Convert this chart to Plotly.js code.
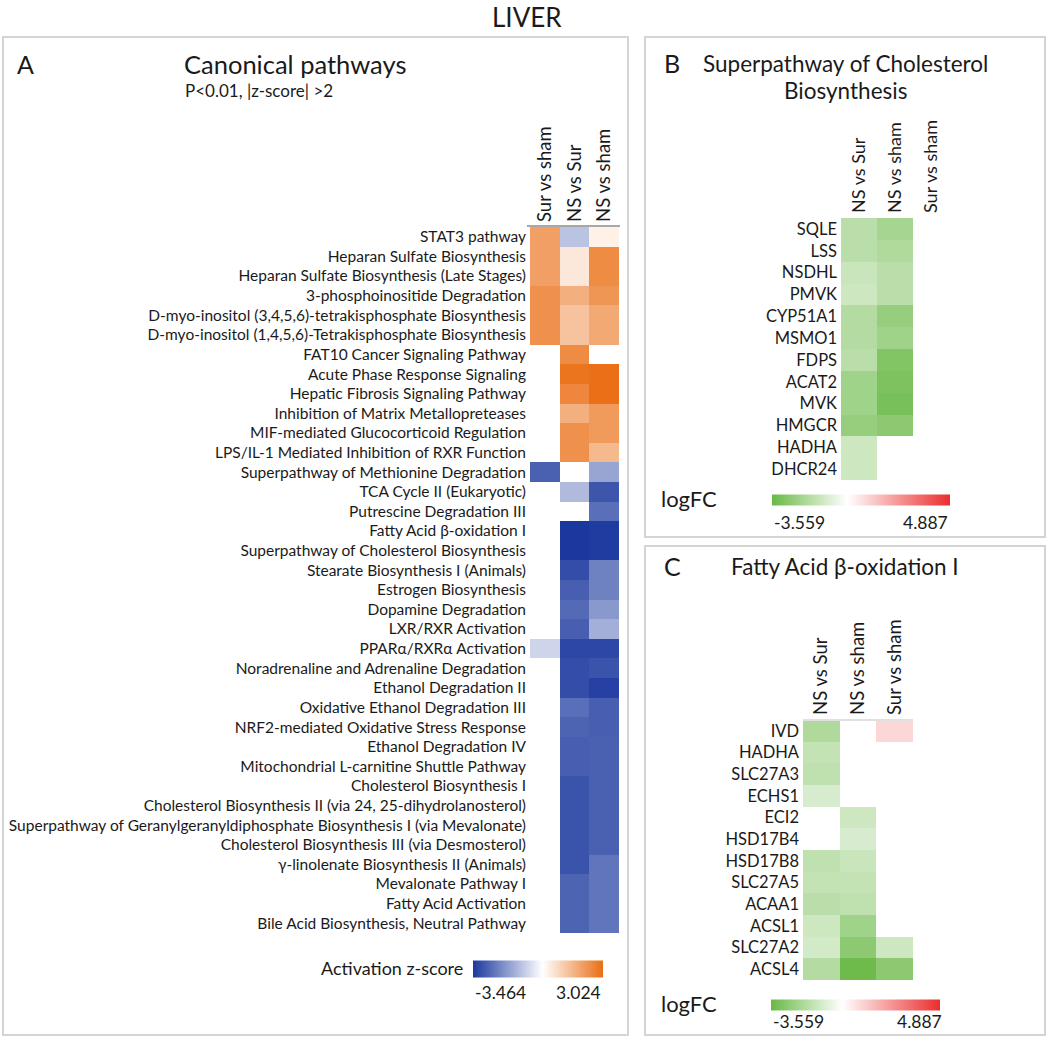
<!DOCTYPE html>
<html>
<head>
<meta charset="utf-8">
<script src="https://cdn.plot.ly/plotly-3.0.1.min.js"></script>
<style>body{margin:0;background:#fff;} #chart{width:1050px;height:1043px;}</style>
</head>
<body>
<div id="chart"></div>
<script>
const W = 1050, H = 1043;
const px = (x) => x / W;       // pixel -> paper x
const py = (y) => 1 - y / H;   // pixel -> paper y

// ---- panel A: canonical pathways, activation z-score
const pathways = [
  'STAT3 pathway',
  'Heparan Sulfate Biosynthesis',
  'Heparan Sulfate Biosynthesis (Late Stages)',
  '3-phosphoinositide Degradation',
  'D-myo-inositol (3,4,5,6)-tetrakisphosphate Biosynthesis',
  'D-myo-inositol (1,4,5,6)-Tetrakisphosphate Biosynthesis',
  'FAT10 Cancer Signaling Pathway',
  'Acute Phase Response Signaling',
  'Hepatic Fibrosis Signaling Pathway',
  'Inhibition of Matrix Metallopreteases',
  'MIF-mediated Glucocorticoid Regulation',
  'LPS/IL-1 Mediated Inhibition of RXR Function',
  'Superpathway of Methionine Degradation',
  'TCA Cycle II (Eukaryotic)',
  'Putrescine Degradation III',
  'Fatty Acid β-oxidation I',
  'Superpathway of Cholesterol Biosynthesis',
  'Stearate Biosynthesis I (Animals)',
  'Estrogen Biosynthesis',
  'Dopamine Degradation',
  'LXR/RXR Activation',
  'PPARα/RXRα Activation',
  'Noradrenaline and Adrenaline Degradation',
  'Ethanol Degradation II',
  'Oxidative Ethanol Degradation III',
  'NRF2-mediated Oxidative Stress Response',
  'Ethanol Degradation IV',
  'Mitochondrial L-carnitine Shuttle Pathway',
  'Cholesterol Biosynthesis I',
  'Cholesterol Biosynthesis II (via 24, 25-dihydrolanosterol)',
  'Superpathway of Geranylgeranyldiphosphate Biosynthesis I (via Mevalonate)',
  'Cholesterol Biosynthesis III (via Desmosterol)',
  'γ-linolenate Biosynthesis II (Animals)',
  'Mevalonate Pathway I',
  'Fatty Acid Activation',
  'Bile Acid Biosynthesis, Neutral Pathway'
];
const colsA = ['Sur vs sham', 'NS vs Sur', 'NS vs sham'];
const zSurSham = [2.0, 2.0, 2.0, 2.3, 2.3, 2.3, null, null, null, null, null, null,
  -2.75, null, null, null, null, null, null, null, null, -0.75, null, null,
  null, null, null, null, null, null, null, null, null, null, null, null];
const zNsSur = [-1.04, 0.48, 0.48, 1.67, 1.25, 1.25, 2.4, 2.9, 2.5, 1.67, 2.3, 2.3,
  null, -1.2, null, -3.46, -3.46, -3.1, -2.8, -2.6, -2.8, -3.2, -3.1, -3.1,
  -2.5, -2.7, -2.8, -2.8, -3.0, -3.0, -3.0, -3.0, -3.0, -2.7, -2.7, -2.7];
const zNsSham = [0.3, 2.4, 2.4, 2.2, 1.8, 1.8, null, 3.0, 3.0, 2.1, 2.1, 1.45,
  -1.57, -2.95, -2.5, -3.4, -3.4, -2.2, -2.2, -1.8, -1.4, -3.2, -3.0, -3.3,
  -2.8, -2.8, -2.75, -2.75, -2.75, -2.75, -2.75, -2.75, -2.4, -2.4, -2.4, -2.4];
const zRange = [-3.464, 3.024];

// ---- panels B and C: logFC
const colsBC = ['NS vs Sur', 'NS vs sham', 'Sur vs sham'];
const cholGenes = ['SQLE', 'LSS', 'NSDHL', 'PMVK', 'CYP51A1', 'MSMO1', 'FDPS', 'ACAT2', 'MVK', 'HMGCR', 'HADHA', 'DHCR24'];
const cholNsSur = [-1.66, -1.66, -1.3, -1.19, -1.78, -1.78, -1.66, -2.25, -2.25, -2.49, -1.19, -1.19];
const cholNsSham = [-2.14, -1.9, -1.66, -1.66, -2.49, -2.25, -2.97, -3.08, -3.2, -2.73, null, null];
const cholSurSham = [null, null, null, null, null, null, null, null, null, null, null, null];

const faoGenes = ['IVD', 'HADHA', 'SLC27A3', 'ECHS1', 'ECI2', 'HSD17B4', 'HSD17B8', 'SLC27A5', 'ACAA1', 'ACSL1', 'SLC27A2', 'ACSL4'];
const faoNsSur = [-1.9, -1.42, -1.54, -0.95, null, null, -1.54, -1.42, -1.66, -1.19, -1.07, -1.78];
const faoNsSham = [null, null, null, null, -1.19, -0.95, -1.3, -1.42, -1.54, -2.25, -2.73, -3.45];
const faoSurSham = [0.93, null, null, null, null, null, null, null, null, null, -1.19, -2.73];
const fcRange = [-3.559, 4.887];

// ---- styles
const FONT = 'Lato, "Open Sans", sans-serif';
const INK = '#1a1a1a';
const zeroAt = (r) => -r[0] / (r[1] - r[0]);
const scaleA = [[0, 'rgb(27,56,158)'], [zeroAt(zRange), 'rgb(255,255,255)'], [1, 'rgb(234,110,20)']];
const scaleFC = [[0, 'rgb(105,185,70)'], [zeroAt(fcRange), 'rgb(255,255,255)'], [1, 'rgb(235,45,45)']];

const toRows = (...cols) => cols[0].map((_, i) => cols.map(c => c[i]));

function colorbar(x0, x1, yc, thick) {
  return {
    orientation: 'h', x: px((x0 + x1) / 2), xanchor: 'center',
    y: py(yc), yanchor: 'middle', len: x1 - x0, lenmode: 'pixels',
    thickness: thick, thicknessmode: 'pixels', outlinewidth: 0,
    showticklabels: false, ticks: '', xpad: 0, ypad: 0
  };
}

const data = [
  {
    type: 'heatmap', x: colsA, y: pathways, z: toRows(zSurSham, zNsSur, zNsSham),
    zmin: zRange[0], zmax: zRange[1], colorscale: scaleA, hoverinfo: 'skip',
    xaxis: 'x', yaxis: 'y', colorbar: colorbar(473, 603, 968.5, 17)
  },
  {
    type: 'heatmap', x: colsBC, y: cholGenes, z: toRows(cholNsSur, cholNsSham, cholSurSham),
    zmin: fcRange[0], zmax: fcRange[1], colorscale: scaleFC, hoverinfo: 'skip',
    xaxis: 'x2', yaxis: 'y2', colorbar: colorbar(772, 950, 499.5, 11)
  },
  {
    type: 'heatmap', x: colsBC, y: faoGenes, z: toRows(faoNsSur, faoNsSham, faoSurSham),
    zmin: fcRange[0], zmax: fcRange[1], colorscale: scaleFC, hoverinfo: 'skip',
    xaxis: 'x3', yaxis: 'y3', colorbar: colorbar(771, 940, 1004.5, 11)
  }
];

function xAxis(x0, x1, anchor, size) {
  return {
    domain: [px(x0), px(x1)], anchor: anchor, side: 'top', tickangle: -90,
    tickfont: { size: size, color: INK }, showgrid: false, zeroline: false,
    showline: false, ticks: '', ticklabelstandoff: 4, fixedrange: true
  };
}
function yAxis(y0, y1, anchor, size) {
  return {
    domain: [py(y1), py(y0)], anchor: anchor, autorange: 'reversed',
    tickfont: { size: size, color: INK }, showgrid: false, zeroline: false,
    showline: false, ticks: '', ticklabelstandoff: 3, fixedrange: true
  };
}

const txt = (x, y, text, size, anchor) => ({
  xref: 'paper', yref: 'paper', x: px(x), y: py(y), text: text, showarrow: false,
  xanchor: anchor || 'left', yanchor: 'middle', font: { size: size, color: INK, family: FONT }
});

const box = (x0, y0, x1, y1) => ({
  type: 'rect', xref: 'paper', yref: 'paper', x0: px(x0), x1: px(x1), y0: py(y1), y1: py(y0),
  line: { color: '#d4d4d4', width: 2 }, fillcolor: 'rgba(0,0,0,0)'
});
const hline = (x0, x1, y, color) => ({
  type: 'line', xref: 'paper', yref: 'paper', x0: px(x0), x1: px(x1), y0: py(y), y1: py(y),
  line: { color: color, width: 2 }
});

const layout = {
  width: W, height: H, margin: { l: 0, r: 0, t: 0, b: 0 },
  paper_bgcolor: '#fff', plot_bgcolor: 'rgba(0,0,0,0)',
  font: { family: FONT, color: INK },
  showlegend: false,
  xaxis: xAxis(530, 619, 'y', 18.5),
  yaxis: yAxis(227, 933, 'x', 15.5),
  xaxis2: xAxis(841, 949, 'y2', 18),
  yaxis2: yAxis(218, 480, 'x2', 16.5),
  xaxis3: xAxis(803, 913, 'y3', 18.5),
  yaxis3: yAxis(720, 980, 'x3', 16.5),
  shapes: [
    box(3, 37, 628, 1035),
    box(645, 37, 1045, 537),
    box(645, 546, 1045, 1035),
    hline(527, 620, 226, '#a8a8a8'),
    hline(803, 913, 720, '#e0e0e0')
  ],
  annotations: [
    txt(527, 17, 'LIVER', 26, 'center'),
    txt(15, 64, 'A', 25),
    txt(182, 64, 'Canonical pathways', 25.5),
    txt(183, 91, 'P<0.01, |z-score| >2', 17),
    txt(465, 968, 'Activation z-score', 18, 'right'),
    txt(473, 992, '-3.464', 17.5),
    txt(603, 992, '3.024', 17.5, 'right'),
    txt(662, 63, 'B', 25),
    txt(845, 63, 'Superpathway of Cholesterol', 22.5, 'center'),
    txt(845, 91, 'Biosynthesis', 22.5, 'center'),
    txt(659, 498, 'logFC', 22),
    txt(772, 522, '-3.559', 17.5),
    txt(950, 522, '4.887', 17.5, 'right'),
    txt(662, 566, 'C', 25),
    txt(845, 566, 'Fatty Acid β-oxidation I', 22.5, 'center'),
    txt(659, 1003, 'logFC', 22),
    txt(771, 1021, '-3.559', 17.5),
    txt(944, 1021, '4.887', 17.5, 'right')
  ]
};

Plotly.newPlot('chart', data, layout, { staticPlot: true, displayModeBar: false });
</script>
</body>
</html>
